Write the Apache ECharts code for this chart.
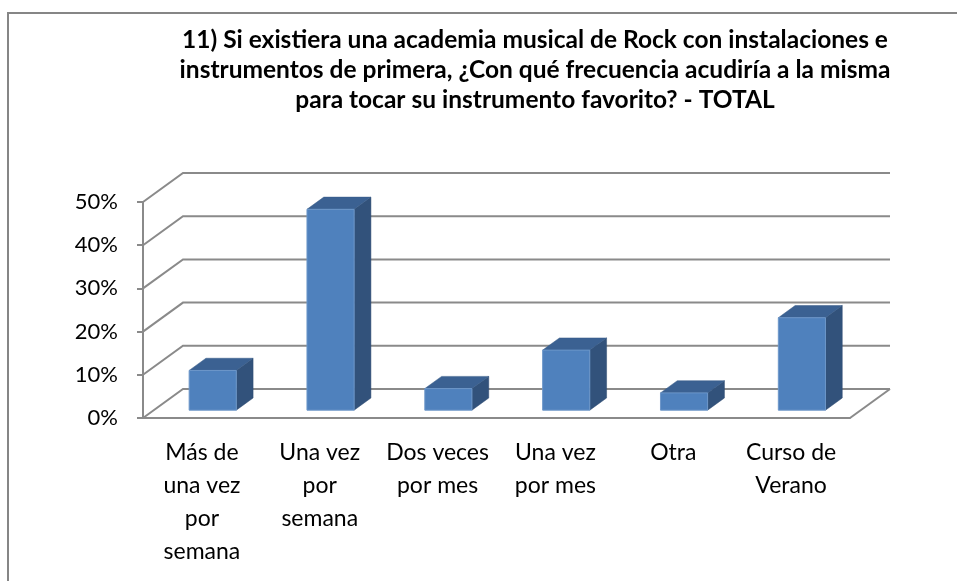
<!DOCTYPE html>
<html>
<head>
<meta charset="utf-8">
<script src="https://cdn.jsdelivr.net/npm/echarts@6/dist/echarts.min.js"></script>
<style>
  html, body { margin: 0; padding: 0; background: #fff; }
  #chart { width: 957px; height: 581px; }
</style>
</head>
<body>
<div id="chart"></div>
<script>
// categorias y valores (proporcion sobre el total)
var categories = [
  'Más de\nuna vez\npor\nsemana',
  'Una vez\npor\nsemana',
  'Dos veces\npor mes',
  'Una vez\npor mes',
  'Otra',
  'Curso de\nVerano'
];
var values = [0.092, 0.465, 0.050, 0.139, 0.040, 0.214];
var yTicks = [0, 0.1, 0.2, 0.3, 0.4, 0.5];

var titleText = '11) Si existiera una academia musical de Rock con instalaciones e\n' +
  'instrumentos de primera, ¿Con qué frecuencia acudiría a la misma\n' +
  'para tocar su instrumento favorito? - TOTAL';

// profundidad del "3D" (pared del fondo)
var DX = 40, DY = -29;
var FRONT = 0.27;   // donde empieza la barra en profundidad
var DEPTH = 0.42;   // profundidad de la barra
var gridColor = '#8a8a8a';
var font = 'Lato, "Liberation Sans", sans-serif';

var chart = echarts.init(document.getElementById('chart'));

function renderWall (params, api) {
  var cs = params.coordSys;
  var v = api.value(1);
  var y = api.coord([0, v])[1];
  var left = cs.x, right = cs.x + cs.width;
  var children = [{
    type: 'polyline',
    shape: { points: [[left, y], [left + DX, y + DY], [right + DX, y + DY]] },
    style: { stroke: gridColor, lineWidth: 2, fill: null }
  }];
  if (v === 0) {
    children.push({
      type: 'line',
      shape: { x1: right, y1: y, x2: right + DX, y2: y + DY },
      style: { stroke: gridColor, lineWidth: 2 }
    });
  }
  return { type: 'group', children: children };
}

function renderBar (params, api) {
  var idx = api.value(0);
  var base = api.coord([idx, 0]);
  var top = api.coord([idx, api.value(1)]);
  var w = api.size([1, 0])[0] * 0.40;
  var fx = DX * FRONT, fy = DY * FRONT;
  var bx = DX * DEPTH, by = DY * DEPTH;
  var xl = base[0] - w / 2 + fx, xr = base[0] + w / 2 + fx;
  var yb = base[1] + fy, yt = top[1] + fy;
  return {
    type: 'group',
    children: [
      {
        type: 'polygon',
        shape: { points: [[xr, yt], [xr, yb], [xr + bx, yb + by], [xr + bx, yt + by]] },
        style: { fill: '#32527b', stroke: '#2e4b70', lineWidth: 0.5 }
      },
      {
        type: 'polygon',
        shape: { points: [[xl, yt], [xr, yt], [xr + bx, yt + by], [xl + bx, yt + by]] },
        style: { fill: '#3b6192', stroke: '#375a87', lineWidth: 0.5 }
      },
      {
        type: 'rect',
        shape: { x: xl, y: yt, width: xr - xl, height: yb - yt },
        style: { fill: '#4f81bd', stroke: '#6d97c9', lineWidth: 1 }
      }
    ]
  };
}

var option = {
  backgroundColor: '#fff',
  animation: false,
  title: {
    text: titleText,
    left: 530,
    textAlign: 'center',
    top: 20,
    textStyle: {
      fontFamily: font,
      fontWeight: 'bold',
      fontSize: 24.5,
      lineHeight: 30,
      color: '#000'
    }
  },
  graphic: [{
    type: 'rect',
    shape: { x: 8, y: 13, width: 1200, height: 1200 },
    style: { fill: null, stroke: '#868686', lineWidth: 2 },
    silent: true
  }],
  grid: { left: 143, right: 107, top: 202, bottom: 163 },
  xAxis: {
    type: 'category',
    data: categories,
    axisLine: { lineStyle: { color: gridColor, width: 2 } },
    axisTick: { length: 8, lineStyle: { color: gridColor, width: 2 } },
    axisLabel: {
      interval: 0,
      margin: 18,
      fontFamily: font,
      fontSize: 23,
      lineHeight: 33,
      color: '#000'
    }
  },
  yAxis: {
    type: 'value',
    min: 0,
    max: 0.5,
    interval: 0.1,
    axisLine: { show: true, lineStyle: { color: gridColor, width: 2 } },
    axisTick: { show: true, length: 6, lineStyle: { color: gridColor, width: 2 } },
    splitLine: { show: false },
    axisLabel: {
      margin: 25,
      fontFamily: font,
      fontSize: 22,
      color: '#000',
      formatter: function (v) { return Math.round(v * 100) + '%'; }
    }
  },
  series: [
    {
      type: 'custom',
      renderItem: renderWall,
      data: yTicks.map(function (v) { return [0, v]; }),
      z: 1,
      silent: true
    },
    {
      type: 'custom',
      renderItem: renderBar,
      data: values.map(function (v, i) { return [i, v]; }),
      z: 3
    }
  ]
};

chart.setOption(option);
</script>
</body>
</html>
